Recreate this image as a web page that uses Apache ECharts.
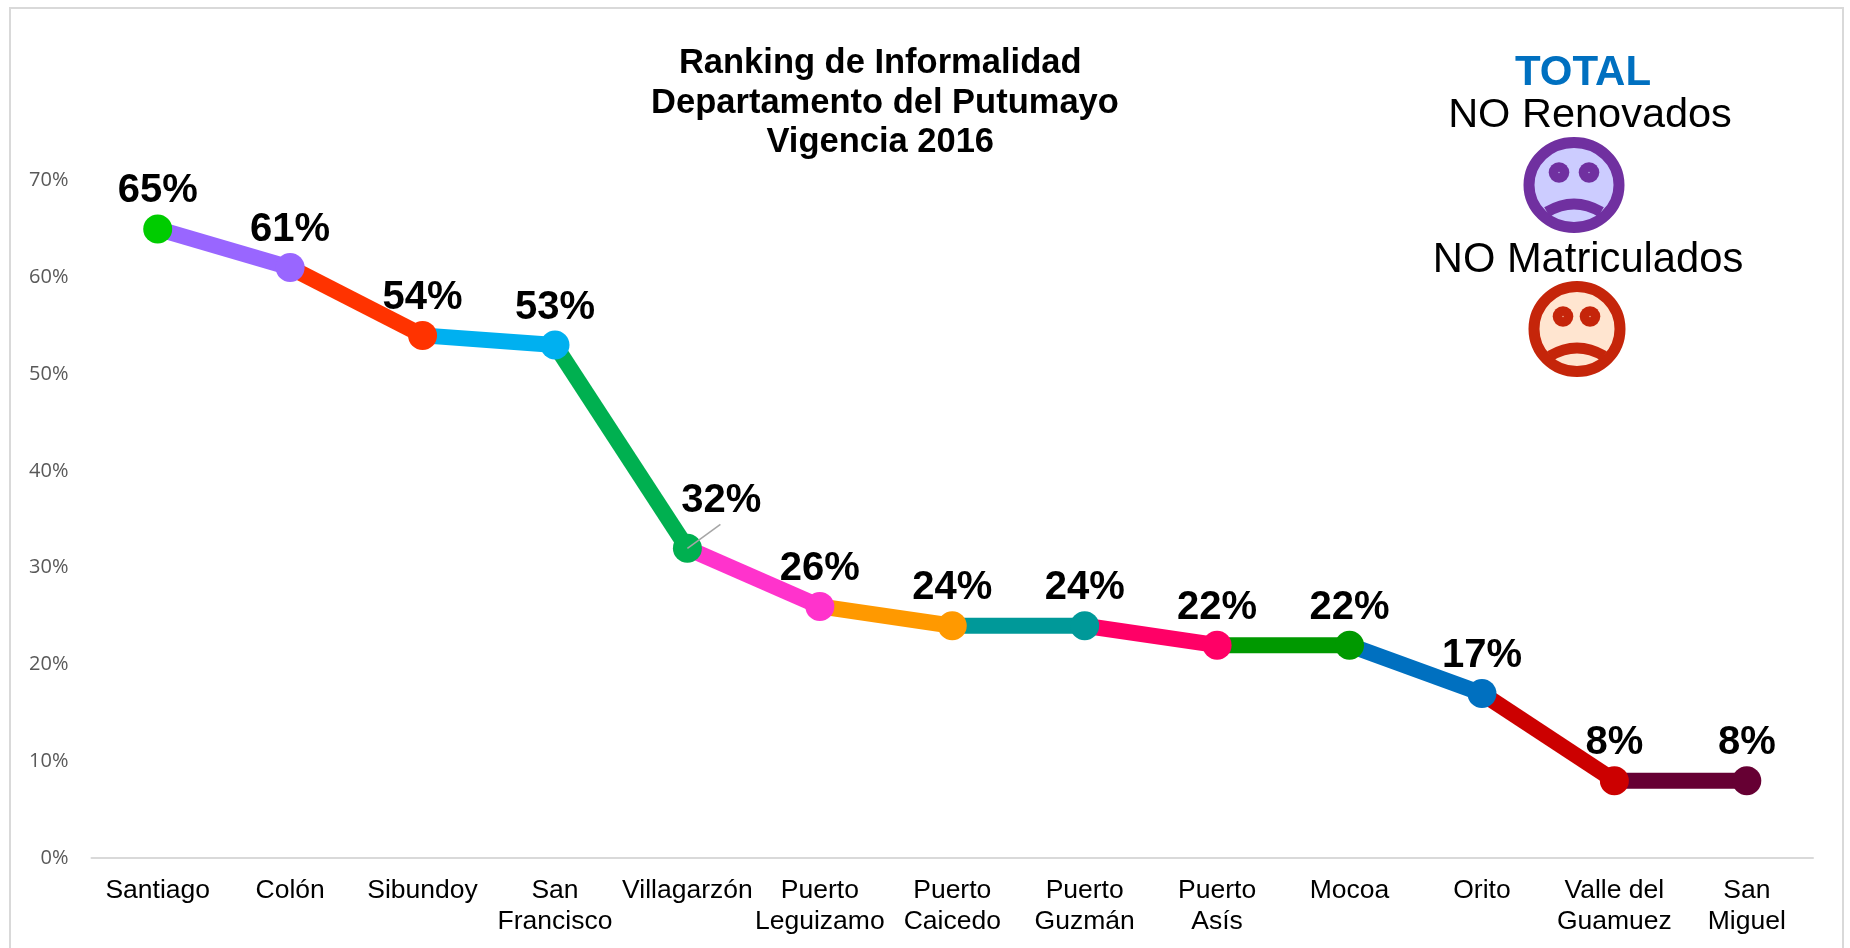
<!DOCTYPE html>
<html>
<head>
<meta charset="utf-8">
<title>Ranking de Informalidad</title>
<style>
  html, body { margin: 0; padding: 0; background: #fff; }
  #chart { width: 1850px; height: 948px; }
</style>
<script src="https://cdn.jsdelivr.net/npm/echarts@6/dist/echarts.min.js"></script>
</head>
<body>
<div id="chart"></div>
<script>
const categories = ['Santiago', 'Colón', 'Sibundoy', 'San\nFrancisco', 'Villagarzón', 'Puerto\nLeguizamo',
  'Puerto\nCaicedo', 'Puerto\nGuzmán', 'Puerto\nAsís', 'Mocoa', 'Orito', 'Valle del\nGuamuez', 'San\nMiguel'];
const values = [65, 61, 54, 53, 32, 26, 24, 24, 22, 22, 17, 8, 8];
const colors = ['#00CC00', '#9966FF', '#FF3300', '#00B0F0', '#00B050', '#FF33CC', '#FF9900',
  '#009999', '#FF0066', '#009900', '#0070C0', '#CC0000', '#660033'];
// trailing nbsp keeps lines 1 and 3 a little left of the middle line
const titleText = 'Ranking de Informalidad\u00a0\nDepartamento del Putumayo\nVigencia 2016\u00a0';
const movedLabel = 4; // Villagarzón, its label sits off the point with a leader

const chart = echarts.init(document.getElementById('chart'));

// each stretch of line takes the colour of the point it ends on
const segments = values.slice(1).map((v, i) => ({
  type: 'line',
  data: values.map((val, j) => (j === i || j === i + 1 ? val : null)),
  symbol: 'none',
  z: 2,
  lineStyle: { color: colors[i + 1], width: 16, cap: 'butt', join: 'bevel' },
}));

const face = (cx, cy, rx, ry, stroke, fill, eyes) => [
  { type: 'ellipse', shape: { cx, cy, rx: rx - 5.5, ry: ry - 5.5 }, style: { fill, stroke, lineWidth: 11 } },
  ...eyes.map((ex) => ({ type: 'circle', shape: { cx: ex, cy: cy - 12.5, r: 10.3 }, style: { fill: stroke } })),
  ...eyes.map((ex) => ({ type: 'circle', shape: { cx: ex, cy: cy - 12.5, r: 0.8 }, style: { fill, opacity: 0.7 } })),
  {
    type: 'bezierCurve',
    shape: { x1: cx - 27, y1: cy + 27, x2: cx + 27, y2: cy + 27, cpx1: cx, cpy1: cy + 11 },
    style: { fill: 'none', stroke, lineWidth: 11 },
  },
];

const sideText = (text, x, y, size, color, weight) => ({
  type: 'text',
  x,
  y,
  style: {
    text,
    fill: color,
    font: `${weight} ${size}px "Liberation Sans", Arial, sans-serif`,
    align: 'center',
    verticalAlign: 'middle',
  },
});

chart.setOption({
  animation: false,
  backgroundColor: '#fff',
  title: {
    text: titleText,
    left: 880,
    top: 39,
    textAlign: 'center',
    textStyle: {
      fontFamily: '"Liberation Sans", Arial, sans-serif',
      fontWeight: 'bold',
      fontSize: 34.5,
      lineHeight: 39.5,
      color: '#000',
    },
  },
  grid: { left: 91.5, right: 37, top: 180.5, bottom: 89.9 },
  xAxis: {
    type: 'category',
    data: categories,
    axisTick: { show: false },
    axisLine: { lineStyle: { color: '#D9D9D9', width: 2 } },
    axisLabel: {
      interval: 0,
      margin: 17,
      fontFamily: '"Liberation Sans", Arial, sans-serif',
      fontSize: 26.5,
      lineHeight: 31,
      color: '#000',
    },
  },
  yAxis: {
    type: 'value',
    min: 0,
    max: 70,
    interval: 10,
    splitLine: { show: false },
    axisLine: { show: false },
    axisTick: { show: false },
    axisLabel: {
      margin: 23,
      formatter: '{value}%',
      fontFamily: '"Open Sans", sans-serif',
      fontSize: 20,
      color: '#595959',
    },
  },
  series: [
    ...segments,
    {
      type: 'scatter',
      symbolSize: 29,
      z: 3,
      data: values.map((v, i) => ({ value: v, itemStyle: { color: colors[i], opacity: 1 } })),
      label: {
        show: true,
        position: 'top',
        distance: 3,
        formatter: '{c}%',
        fontFamily: '"Liberation Sans", Arial, sans-serif',
        fontWeight: 'bold',
        fontSize: 40,
        color: '#000',
      },
      labelLayout: (params) => (params.dataIndex === movedLabel ? { dx: 34, dy: -10 } : {}),
    },
    {
      // leader of the moved label, starts on the point itself
      type: 'custom',
      z: 4,
      silent: true,
      data: [[movedLabel, values[movedLabel]]],
      renderItem: (params, api) => {
        const [x, y] = api.coord([api.value(0), api.value(1)]);
        return {
          type: 'line',
          shape: { x1: x, y1: y, x2: x + 33, y2: y - 24 },
          style: { stroke: '#A6A6A6', lineWidth: 1.5 },
        };
      },
    },
  ],
  graphic: [
    // page frame, its bottom edge falls outside the picture
    { type: 'rect', shape: { x: 10, y: 8, width: 1833, height: 960 }, style: { fill: 'none', stroke: '#D9D9D9', lineWidth: 2 } },
    sideText('TOTAL', 1583, 73.5, 42, '#0070C0', 'bold'),
    sideText('NO Renovados', 1590, 116, 41.5, '#000', 'normal'),
    sideText('NO Matriculados', 1588, 261, 41.7, '#000', 'normal'),
    ...face(1574, 185, 50.5, 48, '#7030A0', '#CCCCFF', [1559, 1589]),
    ...face(1577, 329, 48.5, 48, '#C5250A', '#FFE5D0', [1563, 1590]),
  ],
});
</script>
</body>
</html>
